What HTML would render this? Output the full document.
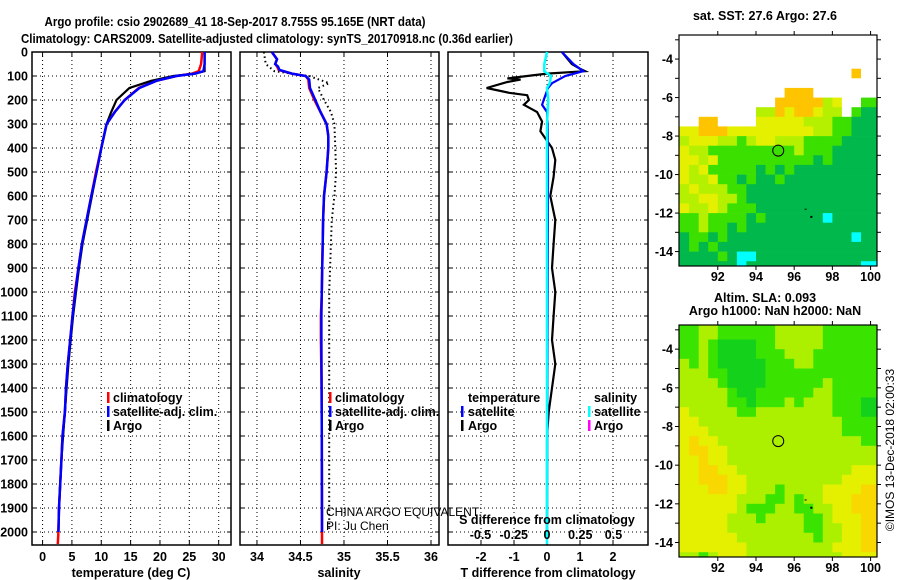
<!DOCTYPE html>
<html><head><meta charset="utf-8"><style>
html,body{margin:0;padding:0;background:#fff;}
svg{display:block;font-family:"Liberation Sans",sans-serif;}
.b{font-weight:bold;font-size:12.5px;}
</style></head><body>
<svg id="fig" width="900" height="580" viewBox="0 0 900 580" xmlns="http://www.w3.org/2000/svg">
<text x="235" y="26" text-anchor="middle" class="b" font-size="13.5" textLength="381" lengthAdjust="spacingAndGlyphs">Argo profile: csio 2902689_41 18-Sep-2017 8.755S 95.165E (NRT data)</text>
<text x="267" y="43" text-anchor="middle" class="b" font-size="13.5" textLength="492" lengthAdjust="spacingAndGlyphs">Climatology: CARS2009. Satellite-adjusted climatology: synTS_20170918.nc (0.36d earlier)</text>
<g id="plots"></g>
</svg>
<script>
// ---- data ----
const depthTicks=[0,100,200,300,400,500,600,700,800,900,1000,1100,1200,1300,1400,1500,1600,1700,1800,1900,2000];
const tempTicks=[0,5,10,15,20,25,30];
const salTicks=[34,34.5,35,35.5,36];
const tdTicks=[-2,-1,0,1,2];
const sdTicks=[-0.5,-0.25,0,0.25,0.5];
const sdTickLabels=["-0.5","-0.25","0","0.25","0.5"];

const tSatDepth=[0,50,80,90,100,120,150,200,250,300,400,500,600,700,800,900,1000,1100,1200,1300,1400,1500,1600,1700,1800,1900,2000];
const tSatVal=[27.6,27.6,27.4,26.0,22.8,19.4,16.5,14.0,12.3,10.9,10.0,9.2,8.3,7.5,6.7,6.1,5.6,5.1,4.7,4.3,4.0,3.8,3.4,3.2,3.0,2.8,2.7];
const tClimDepth=[0,50,80,90,100,120,150,200,250,300,400,500,600,700,800,900,1000,1100,1200,1300,1400,1500,1600,1700,1800,1900,2000,2050];
const tClimVal=[27.2,27.0,26.6,25.5,22.8,19.4,16.4,14.0,12.3,10.9,10.0,9.1,8.3,7.5,6.7,6.1,5.5,5.1,4.7,4.3,4.0,3.8,3.4,3.2,3.0,2.8,2.7,2.6];
const tArgoDepth=[0,50,80,90,100,120,150,200,250,300,400,500,600,700,800,900,1000,1100,1200,1300,1400,1500,1600,1700,1800,1900,2000];
const tArgoVal=[27.6,27.6,27.6,26.0,22.3,18.5,14.8,12.6,11.7,10.9,10.0,9.2,8.4,7.6,6.8,6.2,5.7,5.2,4.8,4.4,4.1,3.8,3.5,3.2,3.0,2.8,2.7];

const sSatDepth=[0,30,50,60,75,90,100,115,150,200,250,300,350,400,500,600,700,800,900,1000,1100,1200,1400,1600,1800,2000];
const sSatVal=[34.17,34.23,34.21,34.24,34.26,34.4,34.56,34.6,34.61,34.67,34.73,34.8,34.82,34.82,34.8,34.77,34.76,34.755,34.75,34.745,34.74,34.74,34.743,34.745,34.746,34.747];
const sClimDepth=[0,30,50,60,75,90,100,115,150,200,250,300,350,400,500,600,700,800,900,1000,1100,1200,1400,1600,1800,2000,2050];
const sClimVal=[34.17,34.23,34.21,34.23,34.25,34.4,34.56,34.59,34.6,34.66,34.73,34.8,34.82,34.82,34.8,34.77,34.76,34.755,34.75,34.745,34.735,34.735,34.743,34.745,34.746,34.747,34.747];
const sArgoDepth=[0,50,80,100,130,150,200,250,300,400,500,600,700,800,900,1000,1100,1200,1500,2000];
const sArgoVal=[34.08,34.1,34.2,34.6,34.83,34.7,34.77,34.85,34.89,34.9,34.91,34.89,34.86,34.85,34.84,34.83,34.83,34.83,34.83,34.83];

const dTArgoDepth=[0,50,70,80,90,100,110,115,125,150,170,180,200,220,250,290,330,370,400,450,520,600,700,800,900,1000,1100,1200,1300,1400,1500,1600,2000];
const dTArgoVal=[0.45,0.75,1.0,1.15,0.0,-0.6,-1.2,-0.8,-1.2,-1.83,-1.15,-0.6,-0.55,-0.7,-0.3,-0.15,-0.2,0.0,0.15,0.25,0.2,0.1,0.25,0.2,0.15,0.25,0.2,0.15,0.25,0.15,0.05,0.0,0.0];
const dTSatDepth=[0,50,80,100,130,150,200,220,250,300,500,1000,2000];
const dTSatVal=[0.45,0.8,1.1,0.55,0.15,0.03,-0.1,-0.15,0,0.02,0.03,0.02,0.0];
const dSSatDepth=[0,50,80,100,130,150,200,300,500,1000,2000,2050];
const dSSatVal=[0,-0.02,-0.02,0.03,0.02,0.0,0.01,0.0,0,0,0,0];

// maps: rows lat -3.0 .. -14.5 (0.5 deg), cols lon 90..99.5 (0.5 deg)
const sstRows=[
"WWWWWWWWWWWWWWWWWWWW","WWWWWWWWWWWWWWWWWWWW","WWWWWWWWWWWWWWWWWWWW","WWWWWWWWWWWWWWWWWWOW",
"WWWWWWWWWWWWWWWWWWWW","WWWWWWWWWWWOOOWWWWWW","WWWWWWWWWWOOOOOLYWWG","WWWWWWWWLLOYOOYLLWGD",
"WWOOWWWWYYYYYLLLGGDD","YYOOOYYYYYYYYYLLGGDD","LYYYLLGLYYLLLGGGGDDD","YLLGGGGGGGGGLGGGDDDD",
"YYLYGGGGGGGGGGDGDDDD","YLYGGGGGDGDGDDDDDDDD","YLLYGGDGDDGDDDDDDDDD","LYLLLGGDDDDDDDDDDDDD",
"LLYYLLGDDDDDDDDDDDDD","YLLYLGGGDDDDDDDDDDDD","GGLGGGGDGDDDDDDCDDDD","GGLGGDGDDDDDDDDDDDDD",
"DGGDGDDDDDDDDDDDDDCD","DGDGDDDDDDDDDDDDDDDD","DDDDGDCCDDDDDDDDDDDD","DDDDDDCDDDDDDDDDDDDC"];
const slaRows=[
"GGLLGGGGGGLLLLLGGGGG","GGLGDDDDGGLLLLLGGGGG","GGLGDDDDGGGLLLGGGGGG","LGLGDDDDDGGGLLGGGGGG",
"LLLGGDDDDGGGGGGGGGGG","LLLLGDDDDGGGGGGLGGGG","LLLLLGDDGGGGGGLLGGGG","LLLLLGGDGGGLGLLLGGGD",
"YLLLLLGGLLLLLLLLGGGD","YYLLLLLLLLLLLLLLLGGG","YYYLLLLLLLLLLLLLLGGG","YOYYLLLLLLLLLLLLLLLG",
"YOOYYLLLLLLLLLLLLLLL","YYOYYLLLLLLLLLLLLLLL","YYOOYYLLLLLLLLLLLLYY","YYOOOYYLLLLLLLLLLYYY",
"YYYOOYYLLLGLLLLYYYYO","YYYYYYLLLGGLGLLYYYOO","YYYYYYLGGGLLGGLLYYOO","YYYYYLLLGLLLLGGLYYYO",
"YYYYYLLLLLLLLGGLLYYO","YYYYYYLLLLLLLLGLLYYO","YYYYYYYLLLLLLLLLYYYO","LLGLYYYLLLLLLLLLLYYY"];
const sstColors={W:"#ffffff",O:"#ffc400",Y:"#e4f000",L:"#b4f000",G:"#3ce000",D:"#00b84c",C:"#00ffff"};
const slaColors={G:"#3ae400",D:"#14d21c",L:"#acf000",Y:"#e4f000",O:"#f8d800"};
const mapLatTicks=[-4,-6,-8,-10,-12,-14];
const mapLonTicks=[92,94,96,98,100];

// ---- drawing ----
const NS="http://www.w3.org/2000/svg";
const root=document.getElementById('plots');
function el(tag,attrs,parent){const e=document.createElementNS(NS,tag);for(const k in attrs)e.setAttribute(k,attrs[k]);(parent||root).appendChild(e);return e;}
const Y0=52,Y1=545;
function yD(d){return Y0+d*0.24;}

function panel(name,x0,x1,xmin,xmax,ticks,labels,withDepthLabels){
  const g=el('g',{});
  
  
  const xs=v=>x0+(v-xmin)/(xmax-xmin)*(x1-x0);
  depthTicks.forEach(d=>{
    const l=el('line',{x1:x0,x2:x1,y1:yD(d),y2:yD(d),stroke:'#000','stroke-width':1,'stroke-dasharray':'1 3'},g);
    
    
    el('line',{x1:x0,x2:x0+4,y1:yD(d),y2:yD(d),stroke:'#000'},g);
    el('line',{x1:x1-4,x2:x1,y1:yD(d),y2:yD(d),stroke:'#000'},g);
    if(withDepthLabels){
      const t=el('text',{x:x0-4,y:yD(d)+4.5,'text-anchor':'end',class:'b'},g);
      t.textContent=d;
      
      
    }
  });
  ticks.forEach((v,i)=>{
    const x=xs(v);
    const l=el('line',{x1:x,x2:x,y1:Y0,y2:Y1,stroke:'#000','stroke-dasharray':'1 3'},g);
    
    
    el('line',{x1:x,x2:x,y1:Y0,y2:Y0+5,stroke:'#000'},g);
    el('line',{x1:x,x2:x,y1:Y1-5,y2:Y1,stroke:'#000'},g);
    const t=el('text',{x:x,y:561,'text-anchor':'middle',class:'b'},g);
    t.textContent=labels?labels[i]:v;
    
    
  });
  el('rect',{x:x0,y:Y0,width:x1-x0,height:Y1-Y0,fill:'none',stroke:'#000','stroke-width':1.5},g);
  return {g,xs};
}
function line(p,dep,val,color,w,name,dash,xs){
  const pts=dep.map((d,i)=>(xs||p.xs)(val[i]).toFixed(1)+','+yD(d).toFixed(1)).join(' ');
  const a={points:pts,fill:'none',stroke:color,'stroke-width':w,'stroke-linejoin':'miter'};
  if(dash)a['stroke-dasharray']=dash;
  const e=el('polyline',a,p.g);
  
  
}
function txt(parent,x,y,s,name,cls,anchor){
  const t=el('text',{x:x,y:y,class:cls||'b','text-anchor':anchor||'start'},parent);
  t.textContent=s;
  
  
  return t;
}
function legendBar(parent,x,y,color,name){
  const r=el('rect',{x:x,y:y-10,width:2.5,height:11,fill:color},parent);
  
  
}

// panel 1 temperature
const p1=panel('temperature-panel',32,231,-1.8,32.1,tempTicks,null,true);
line(p1,tClimDepth,tClimVal,'#ff0000',2.5,'temp-climatology-line');
line(p1,tArgoDepth,tArgoVal,'#000',2.2,'temp-argo-line');
line(p1,tSatDepth,tSatVal,'#0000ff',2.5,'temp-satellite-line');
txt(p1.g,131,577,'temperature (deg C)','x-axis-title',null,'middle');
legendBar(p1.g,107,402,'#ff0000','legend-swatch-climatology');
txt(p1.g,113,402,'climatology','legend-climatology');
legendBar(p1.g,107,416,'#0000ff','legend-swatch-satellite');
txt(p1.g,113,416,'satellite-adj. clim.','legend-satellite');
legendBar(p1.g,107,430,'#000','legend-swatch-argo');
txt(p1.g,113,430,'Argo','legend-argo');

// panel 2 salinity
const p2=panel('salinity-panel',240,439,33.805,36.092,salTicks,null,false);
line(p2,sArgoDepth,sArgoVal,'#000',2,'sal-argo-line','1.5 3');
line(p2,sClimDepth,sClimVal,'#ff0000',2.5,'sal-climatology-line');
line(p2,sSatDepth,sSatVal,'#0000ff',2.5,'sal-satellite-line');
txt(p2.g,339,577,'salinity','x-axis-title',null,'middle');
legendBar(p2.g,329,402,'#ff0000','legend-swatch-climatology');
txt(p2.g,335,402,'climatology','legend-climatology');
legendBar(p2.g,329,416,'#0000ff','legend-swatch-satellite');
txt(p2.g,335,416,'satellite-adj. clim.','legend-satellite');
legendBar(p2.g,329,430,'#000','legend-swatch-argo');
txt(p2.g,335,430,'Argo','legend-argo');

// panel 3 differences
const p3=panel('difference-panel',448,648,-3.0,3.06,tdTicks,null,false);
const sxs=v=>547+v*133;
txt(p3.g,548,577,'T difference from climatology','x-axis-title',null,'middle');
line(p3,dTArgoDepth,dTArgoVal,'#000',2.2,'tdiff-argo-line');
line(p3,dTSatDepth,dTSatVal,'#0000ff',2.2,'tdiff-satellite-line');
line(p3,dSSatDepth,dSSatVal,'#00ffff',2.5,'sdiff-satellite-line',null,sxs);
txt(p3.g,468,402,'temperature','legend-temperature-header');
legendBar(p3.g,461,416,'#0000ff','legend-swatch-t-satellite');
txt(p3.g,468,416,'satellite','legend-t-satellite');
legendBar(p3.g,461,430,'#000','legend-swatch-t-argo');
txt(p3.g,468,430,'Argo','legend-t-argo');
txt(p3.g,594,402,'salinity','legend-salinity-header');
legendBar(p3.g,588,416,'#00ffff','legend-swatch-s-satellite');
txt(p3.g,594,416,'satellite','legend-s-satellite');
legendBar(p3.g,588,430,'#ff00ff','legend-swatch-s-argo');
txt(p3.g,594,430,'Argo','legend-s-argo');
txt(p3.g,547,524,'S difference from climatology','s-axis-title',null,'middle');
sdTicks.forEach((v,i)=>{txt(p3.g,sxs(v),539,sdTickLabels[i],'s-tick-label',null,'middle');});

// CHINA ARGO label
const ca=txt(root,326,516,'CHINA ARGO EQUIVALENT','float-owner-label','n');
ca.setAttribute('font-size','12');
const pi=txt(root,326,530,'PI: Ju Chen','pi-label','n');
pi.setAttribute('font-size','12');

// maps
function map(name,yTop,yBot,rows,colors,t1,t2){
  const g=el('g',{});
  
  
  const x0=679,x1=877;
  const lonX=lon=>x0+(lon-89.97)*19.1;
  const latTop=-2.75,latBot=-14.75;
  const latY=lat=>yTop+(latTop-lat)/(latTop-latBot)*(yBot-yTop);
  const clip='clip-'+name;
  const cp=el('clipPath',{id:clip},g);
  el('rect',{x:x0,y:yTop,width:x1-x0,height:yBot-yTop},cp);
  const cells=el('g',{'clip-path':'url(#'+clip+')'},g);
  rows.forEach((row,r)=>{
    const latA=-3-0.5*r, latB=latA-0.5;
    for(let c=0;c<row.length;c++){
      const ch=row[c];
      const lonA=90+0.5*c;
      const xa=c===0?x0:lonX(lonA), xb=c===row.length-1?x1:lonX(lonA+0.5);
      const ya=r===0?yTop:latY(latA), yb=r===rows.length-1?yBot:latY(latB);
      const rc=el('rect',{x:xa.toFixed(1),y:ya.toFixed(1),width:(xb-xa+0.4).toFixed(1),height:(yb-ya+0.4).toFixed(1),fill:colors[ch]},cells);
      
      
    }
  });
  const circ=el('circle',{cx:lonX(95.165),cy:latY(-8.755),r:5.5,fill:'none',stroke:'#000','stroke-width':1},g);
  
  
  el('rect',{x:lonX(96.9)-1,y:latY(-12.2)-1,width:2,height:2,fill:'#000'},g);
  el('rect',{x:lonX(96.6)-1,y:latY(-11.8)-0.5,width:2,height:1,fill:'#000'},g);
  el('rect',{x:x0,y:yTop,width:x1-x0,height:yBot-yTop,fill:'none',stroke:'#000','stroke-width':1.2},g);
  for(let lat=-3;lat>=-14;lat--){
    const y=latY(lat);
    el('line',{x1:x0-4,x2:x0,y1:y,y2:y,stroke:'#000'},g);
    el('line',{x1:x1,x2:x1+4,y1:y,y2:y,stroke:'#000'},g);
  }
  mapLatTicks.forEach(lat=>{txt(g,x0-6,latY(lat)+4.5,String(lat),'map-lat-label',null,'end');});
  mapLonTicks.forEach(lon=>{
    const x=lonX(lon);
    el('line',{x1:x,x2:x,y1:yTop-4,y2:yTop,stroke:'#000'},g);
    el('line',{x1:x,x2:x,y1:yBot,y2:yBot+4,stroke:'#000'},g);
    txt(g,Math.min(x,871),yBot+15,String(lon),'map-lon-label',null,'middle');
  });
  if(t2){
    txt(g,765,yTop-23,t1,'map-title',null,'middle');
    txt(g,775,yTop-10,t2,'map-subtitle',null,'middle');
  } else {
    txt(g,765,yTop-15,t1,'map-title',null,'middle');
  }
}
map('sst-map',35,266,sstRows,sstColors,'sat. SST: 27.6 Argo: 27.6');
map('sla-map',325,557,slaRows,slaColors,'Altim. SLA: 0.093','Argo h1000: NaN h2000: NaN');

const cr=txt(root,0,0,'\u00a9IMOS 13-Dec-2018 02:00:33','copyright-label','n','middle');
cr.setAttribute('transform','translate(894,450) rotate(-90)');
cr.setAttribute('font-size','12');
</script>
</body></html>
